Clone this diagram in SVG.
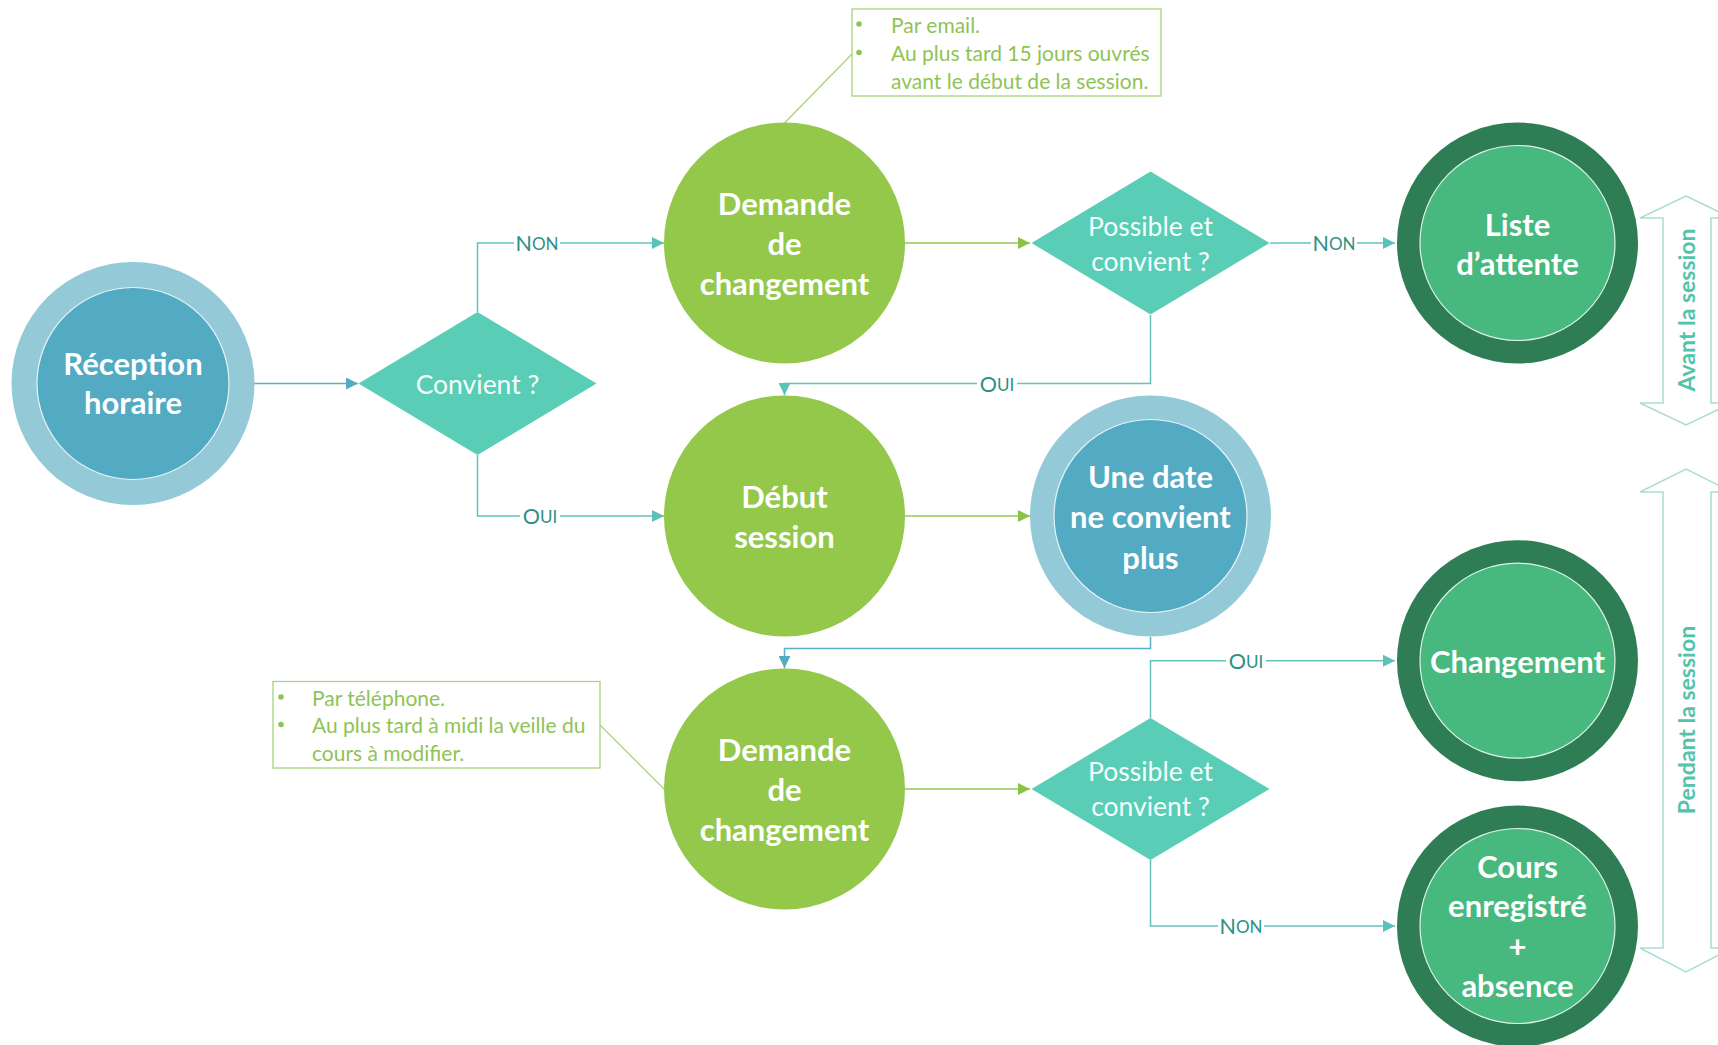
<svg xmlns="http://www.w3.org/2000/svg" width="1718" height="1045" viewBox="0 0 1718 1045">
<defs>
<style>
.nt{font-family:Lato,"Open Sans","Liberation Sans",sans-serif;font-weight:bold;font-size:31px;fill:#fff;text-anchor:middle;dominant-baseline:central}
.dt{font-family:Lato,"Open Sans","Liberation Sans",sans-serif;font-size:26.5px;fill:#f4fffc;text-anchor:middle;dominant-baseline:central}
.lbl{font-family:Lato,"Open Sans","Liberation Sans",sans-serif;font-size:21.5px;fill:#2f8f86;text-anchor:middle;dominant-baseline:central}
.ct{font-family:Lato,"Open Sans","Liberation Sans",sans-serif;font-size:21px;fill:#8fc355;dominant-baseline:central}
.side{font-family:Lato,"Open Sans","Liberation Sans",sans-serif;font-weight:bold;font-size:23px;fill:#52c4aa;text-anchor:middle;dominant-baseline:central}
.teal{fill:none;stroke:#62c3bb;stroke-width:1.5}
.green{fill:none;stroke:#94c659;stroke-width:1.5}
.blue{fill:none;stroke:#5aaec6;stroke-width:1.5}
.callout{fill:none;stroke:#a9d37c;stroke-width:1.3}
.bigarrow{fill:#fff;stroke:#a8ded3;stroke-width:1.5}
.green-c{fill:#93c84b}
.diam{fill:#5acdb6}
.b-outer{fill:#94cad8}
.b-inner{fill:#52aac3;stroke:#e6f4f8;stroke-width:1.2}
.g-outer{fill:#2e7d55}
.g-inner{fill:#48b97e;stroke:#dff3e8;stroke-width:1.2}
.lblbg{fill:#fff}
</style>
<marker id="mt" viewBox="0 0 10 10" refX="10" refY="5" markerWidth="12" markerHeight="12" markerUnits="userSpaceOnUse" orient="auto"><path d="M0,0 L10,5 L0,10 z" fill="#5cc2b9"/></marker>
<marker id="mg" viewBox="0 0 10 10" refX="10" refY="5" markerWidth="12" markerHeight="12" markerUnits="userSpaceOnUse" orient="auto"><path d="M0,0 L10,5 L0,10 z" fill="#8cc247"/></marker>
<marker id="mb" viewBox="0 0 10 10" refX="10" refY="5" markerWidth="12" markerHeight="12" markerUnits="userSpaceOnUse" orient="auto"><path d="M0,0 L10,5 L0,10 z" fill="#52aac4"/></marker>
</defs>
<rect width="1718" height="1045" fill="#fff"/>

<g id="connectors">
<path class="blue" d="M254,383.5 H358" marker-end="url(#mb)"/>
<path class="teal" d="M477.5,312 V243 H664" marker-end="url(#mt)"/>
<path class="teal" d="M477.5,455 V516 H664" marker-end="url(#mt)"/>
<path class="green" d="M905,243 H1030" marker-end="url(#mg)"/>
<path class="teal" d="M1270,243 H1395" marker-end="url(#mt)"/>
<path class="teal" d="M1150.5,315 V383.5 H784.5 V395" marker-end="url(#mt)"/>
<path class="green" d="M905,516 H1030" marker-end="url(#mg)"/>
<path class="blue" d="M1150.5,637 V648.6 H784.5 V668" marker-end="url(#mb)"/>
<path class="green" d="M905,789 H1030" marker-end="url(#mg)"/>
<path class="teal" d="M1150.5,718 V660.7 H1395" marker-end="url(#mt)"/>
<path class="teal" d="M1150.5,860 V926 H1395" marker-end="url(#mt)"/>
<path class="callout" d="M784.5,123 L852,54"/>
<path class="callout" d="M600,725 L665,790"/>
<g id="labels">
<rect class="lblbg" x="514" y="232" width="46" height="22"/>
<text class="lbl" x="537" y="243">N<tspan font-size="17">ON</tspan></text>
<rect class="lblbg" x="520" y="505" width="40" height="22"/>
<text class="lbl" x="540" y="516">O<tspan font-size="17">UI</tspan></text>
<rect class="lblbg" x="1311" y="232" width="46" height="22"/>
<text class="lbl" x="1334" y="243">N<tspan font-size="17">ON</tspan></text>
<rect class="lblbg" x="977" y="372.5" width="40" height="22"/>
<text class="lbl" x="997" y="383.5">O<tspan font-size="17">UI</tspan></text>
<rect class="lblbg" x="1226" y="649.7" width="40" height="22"/>
<text class="lbl" x="1246" y="660.7">O<tspan font-size="17">UI</tspan></text>
<rect class="lblbg" x="1218" y="915" width="46" height="22"/>
<text class="lbl" x="1241" y="926">N<tspan font-size="17">ON</tspan></text>
</g>
</g>

<g id="reception">
<circle class="b-outer" cx="133" cy="383.5" r="121.5"/>
<circle class="b-inner" cx="133" cy="383.5" r="96"/>
<text class="nt" x="133" y="363">Réception</text>
<text class="nt" x="133" y="402">horaire</text>
</g>

<g id="convient">
<polygon class="diam" points="358.5,383.5 477.5,312 596.5,383.5 477.5,455"/>
<text class="dt" x="477.5" y="383.5">Convient ?</text>
</g>

<g id="demande-top">
<circle class="green-c" cx="784.5" cy="243" r="120.5"/>
<text class="nt" x="784.5" y="203">Demande</text>
<text class="nt" x="784.5" y="243">de</text>
<text class="nt" x="784.5" y="283">changement</text>
</g>

<g id="possible-top">
<polygon class="diam" points="1031.5,243 1150.5,171.5 1269.5,243 1150.5,314.5"/>
<text class="dt" x="1150.5" y="226">Possible et</text>
<text class="dt" x="1150.5" y="261">convient ?</text>
</g>

<g id="liste">
<circle class="g-outer" cx="1517.5" cy="243" r="120.5"/>
<circle class="g-inner" cx="1517.5" cy="243" r="97.5"/>
<text class="nt" x="1517.5" y="223.5">Liste</text>
<text class="nt" x="1517.5" y="263">d’attente</text>
</g>

<g id="debut">
<circle class="green-c" cx="784.5" cy="516" r="120.5"/>
<text class="nt" x="784.5" y="496">Début</text>
<text class="nt" x="784.5" y="536">session</text>
</g>

<g id="une-date">
<circle class="b-outer" cx="1150.5" cy="516" r="120.5"/>
<circle class="b-inner" cx="1150.5" cy="516" r="96.5"/>
<text class="nt" x="1150.5" y="475.5">Une date</text>
<text class="nt" x="1150.5" y="516">ne convient</text>
<text class="nt" x="1150.5" y="556.5">plus</text>
</g>

<g id="demande-bottom">
<circle class="green-c" cx="784.5" cy="789" r="120.5"/>
<text class="nt" x="784.5" y="749">Demande</text>
<text class="nt" x="784.5" y="789">de</text>
<text class="nt" x="784.5" y="829">changement</text>
</g>

<g id="possible-bottom">
<polygon class="diam" points="1031.5,789 1150.5,718 1269.5,789 1150.5,860"/>
<text class="dt" x="1150.5" y="771">Possible et</text>
<text class="dt" x="1150.5" y="806">convient ?</text>
</g>

<g id="changement">
<circle class="g-outer" cx="1517.5" cy="660.7" r="120.5"/>
<circle class="g-inner" cx="1517.5" cy="660.7" r="97.5"/>
<text class="nt" x="1517.5" y="660.7">Changement</text>
</g>

<g id="cours">
<circle class="g-outer" cx="1517.5" cy="926" r="120.5"/>
<circle class="g-inner" cx="1517.5" cy="926" r="97.5"/>
<text class="nt" x="1517.5" y="865.5">Cours</text>
<text class="nt" x="1517.5" y="905">enregistré</text>
<text class="nt" x="1517.5" y="945.5">+</text>
<text class="nt" x="1517.5" y="985">absence</text>
</g>

<g id="callout-top">
<rect class="callout" x="852" y="9" width="309" height="87"/>
<circle cx="859" cy="24" r="2.8" fill="#8fc355"/>
<circle cx="859" cy="52.5" r="2.8" fill="#8fc355"/>
<text class="ct" x="891" y="24">Par email.</text>
<text class="ct" x="891" y="52.5">Au plus tard 15 jours ouvrés</text>
<text class="ct" x="891" y="80">avant le début de la session.</text>
</g>

<g id="callout-bottom">
<rect class="callout" x="273" y="681.5" width="327" height="86.5"/>
<circle cx="281" cy="697" r="2.8" fill="#8fc355"/>
<circle cx="281" cy="724.5" r="2.8" fill="#8fc355"/>
<text class="ct" x="312" y="697">Par téléphone.</text>
<text class="ct" x="312" y="724.5">Au plus tard à midi la veille du</text>
<text class="ct" x="312" y="752.5">cours à modifier.</text>
</g>

<g id="avant">
<path class="bigarrow" d="M1686,196 L1732,218 L1711,218 L1711,403 L1732,403 L1686,425 L1640,403 L1663,403 L1663,218 L1640,218 Z"/>
<text class="side" transform="translate(1686,310) rotate(-90)">Avant la session</text>
</g>

<g id="pendant">
<path class="bigarrow" d="M1686,469 L1732,492 L1711,492 L1711,948 L1732,948 L1686,972 L1640,948 L1663,948 L1663,492 L1640,492 Z"/>
<text class="side" transform="translate(1686,720) rotate(-90)">Pendant la session</text>
</g>
</svg>
